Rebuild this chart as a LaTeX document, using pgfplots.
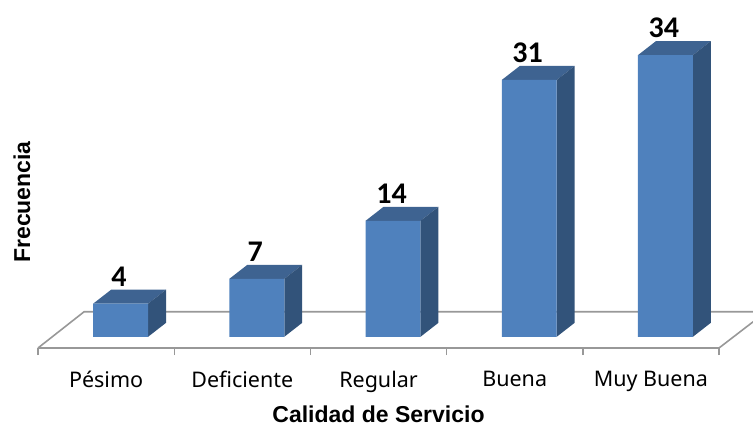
\documentclass[border=0pt]{standalone}
\usepackage{fontspec}
\setmainfont{Carlito}
\newfontfamily\arialfont{Liberation Sans}
\newfontfamily\tickfont{Noto Sans}
\usepackage{pgfplots}
\pgfplotsset{compat=1.18}

\definecolor{barfront}{RGB}{79,129,189}
\definecolor{bartop}{RGB}{62,99,145}
\definecolor{barside}{RGB}{50,83,122}
\definecolor{floorline}{RGB}{152,152,152}

\begin{document}
\begin{tikzpicture}
  \useasboundingbox (0,0) rectangle (753pt,424pt);
  \begin{axis}[
      at={(38pt,76pt)}, anchor=south west,
      x=136.2pt, y=8.285pt,
      xmin=-0.5, xmax=4.5, ymin=-1.35, ymax=38,
      clip=false,
      axis x line*=bottom,
      axis y line=none,
      axis line style={draw=floorline, line width=1.6pt, -},
      xtick={0,1,2,3,4},
      xticklabels={Pésimo,Deficiente,Regular,Buena,Muy Buena},
      minor xtick={-0.5,0.5,1.5,2.5,3.5,4.5},
      major tick length=0pt,
      minor tick length=7pt,
      tick align=outside,
      every minor tick/.style={draw=floorline, line width=1.4pt},
      xticklabel style={font=\tickfont\fontsize{21.5}{23}\selectfont, yshift=-19.5pt},
      xlabel={Calidad de Servicio},
      xlabel style={font=\arialfont\bfseries\fontsize{23}{25}\selectfont, inner sep=0pt, yshift=-9.5pt},
      /pgf/number format/assume math mode=true,
    ]
    % floor
    \addplot[floorline, line width=1.6pt] coordinates {(-0.5,-1.35) (-0.162,3.02) (4.75,3.02)};
    \addplot[floorline, line width=1.6pt] coordinates {(4.5,-1.35) (4.75,1.81)};

    % top faces
    \addplot[fill=bartop, draw=none] coordinates {(-0.095,4) (0.308,4) (0.44,5.69) (0.037,5.69)};
    \addplot[fill=bartop, draw=none] coordinates {(0.905,7) (1.308,7) (1.44,8.69) (1.037,8.69)};
    \addplot[fill=bartop, draw=none] coordinates {(1.905,14) (2.308,14) (2.44,15.69) (2.037,15.69)};
    \addplot[fill=bartop, draw=none] coordinates {(2.905,31) (3.308,31) (3.44,32.69) (3.037,32.69)};
    \addplot[fill=bartop, draw=none] coordinates {(3.905,34) (4.308,34) (4.44,35.69) (4.037,35.69)};
    % side faces
    \addplot[fill=barside, draw=none] coordinates {(0.308,0) (0.44,1.69) (0.44,5.69) (0.308,4)};
    \addplot[fill=barside, draw=none] coordinates {(1.308,0) (1.44,1.69) (1.44,8.69) (1.308,7)};
    \addplot[fill=barside, draw=none] coordinates {(2.308,0) (2.44,1.69) (2.44,15.69) (2.308,14)};
    \addplot[fill=barside, draw=none] coordinates {(3.308,0) (3.44,1.69) (3.44,32.69) (3.308,31)};
    \addplot[fill=barside, draw=none] coordinates {(4.308,0) (4.44,1.69) (4.44,35.69) (4.308,34)};
    % front faces and values
    \addplot[ybar, bar width=54.9pt, bar shift=14.5pt, fill=barfront, draw=none,
        nodes near coords,
        nodes near coords style={font=\bfseries\fontsize{30}{32}\selectfont, text=black,
          anchor=south, yshift=15pt, xshift=13pt, inner sep=2pt}]
      coordinates {(0,4) (1,7) (2,14) (3,31) (4,34)};
  \end{axis}
  \node[rotate=90, font=\arialfont\bfseries\fontsize{23}{25}\selectfont] at (22pt,222pt) {Frecuencia};
\end{tikzpicture}
\end{document}
